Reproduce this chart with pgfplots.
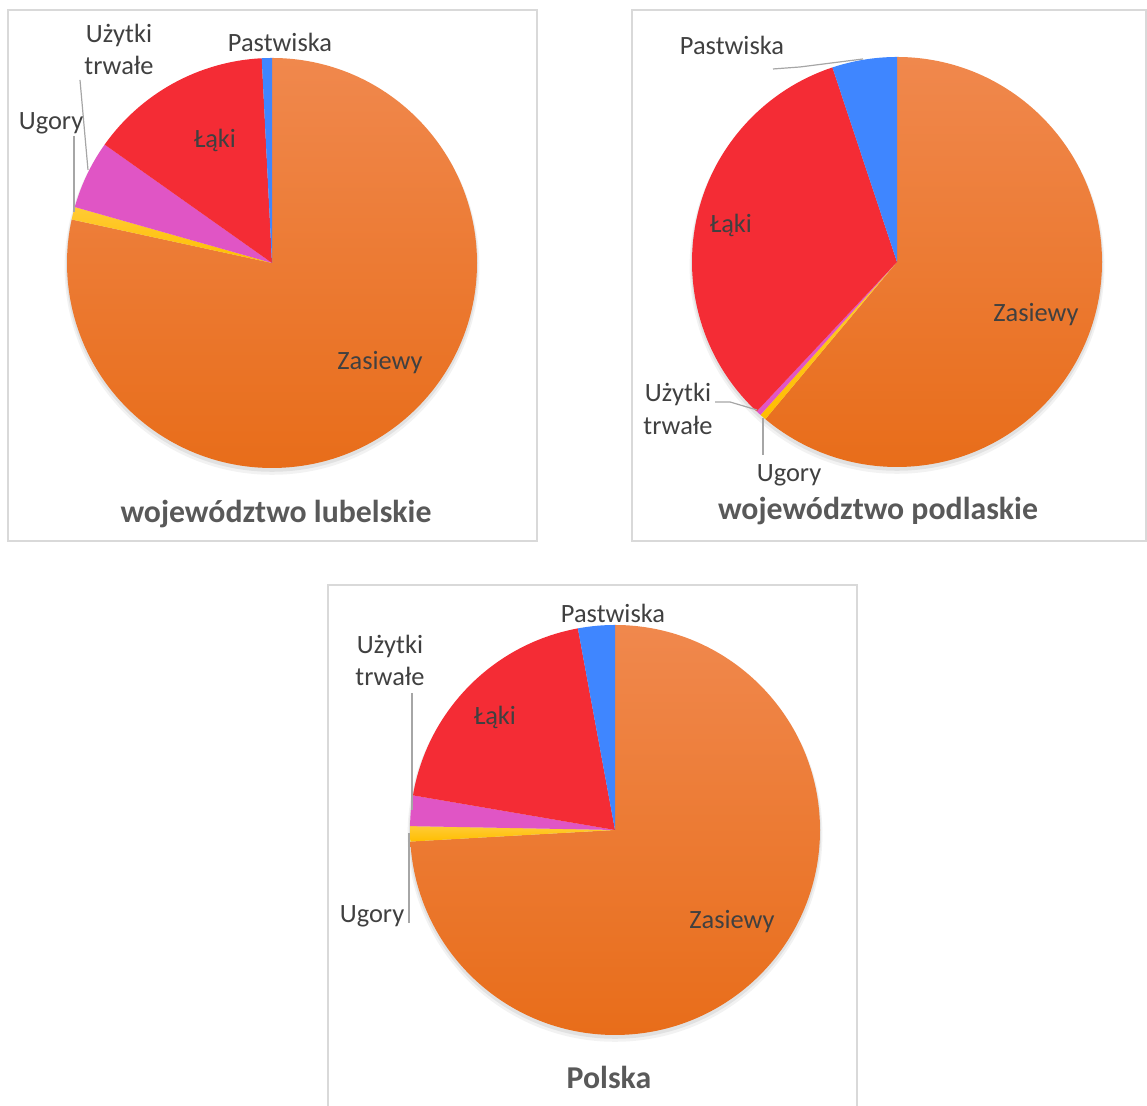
\documentclass[border=0pt]{standalone}
\usepackage{pgfplots}
\pgfplotsset{compat=1.18}
\usepackage{pgfplotstable}
\usepackage{fontspec}
\setmainfont{Carlito}

\definecolor{orTop}{HTML}{F0884D}
\definecolor{orMid}{HTML}{F77F22}
\definecolor{orBot}{HTML}{E86D1A}
\definecolor{ugTop}{HTML}{FFCB35}
\definecolor{ugBot}{HTML}{FFBE00}
\definecolor{uzytki}{HTML}{E055C5}
\definecolor{laki}{HTML}{F42C35}
\definecolor{past}{HTML}{3F86FF}
\definecolor{lbl}{HTML}{404040}
\definecolor{ttl}{HTML}{595959}
\definecolor{frame}{HTML}{D9D9D9}
\definecolor{leader}{HTML}{A6A6A6}

% shares in percent, order as in the charts (clockwise from 12 o'clock)
\pgfplotstableread{
name value
Zasiewy 78.4
Ugory 1.0
Uzytki_trwale 5.4
Laki 14.4
Pastwiska 0.8
}\lubelskie
\pgfplotstableread{
name value
Zasiewy 61.1
Ugory 0.5
Uzytki_trwale 0.4
Laki 32.9
Pastwiska 5.1
}\podlaskie
\pgfplotstableread{
name value
Zasiewy 74.1
Ugory 1.2
Uzytki_trwale 2.4
Laki 19.4
Pastwiska 2.9
}\polska

\makeatletter
\newcommand\computepie[2]{%
  \pgfplotstablegetrowsof{#1}%
  \pgfmathtruncatemacro\pie@n{\pgfplotsretval-1}%
  \gdef\pie@tot{0}%
  \pgfplotsforeachungrouped \i in {0,...,\pie@n}{%
    \pgfplotstablegetelem{\i}{value}\of{#1}%
    \pgfmathsetmacro\pie@t{\pie@tot+\pgfplotsretval}%
    \xdef\pie@tot{\pie@t}%
  }%
  \gdef\pie@cum{0}%
  \pgfplotsforeachungrouped \i in {0,...,\pie@n}{%
    \pgfplotstablegetelem{\i}{value}\of{#1}%
    \pgfmathsetmacro\pie@a{90-(\pie@cum/\pie@tot)*360}%
    \pgfmathsetmacro\pie@c{\pie@cum+\pgfplotsretval}%
    \pgfmathsetmacro\pie@b{90-(\pie@c/\pie@tot)*360}%
    \expandafter\xdef\csname #2s\i\endcsname{\pie@a}%
    \expandafter\xdef\csname #2e\i\endcsname{\pie@b}%
    \xdef\pie@cum{\pie@c}%
  }%
}
\makeatother

\tikzset{
  slice0/.style={top color=orTop, middle color=orMid, bottom color=orBot},
  slice1/.style={top color=ugTop, bottom color=ugBot},
  slice2/.style={fill=uzytki},
  slice3/.style={fill=laki},
  slice4/.style={fill=past},
  lab/.style={text=lbl, font=\fontsize{13.2}{16}\selectfont, anchor=base, inner sep=0pt},
  ttl/.style={text=ttl, font=\bfseries\fontsize{15.9}{19}\selectfont, anchor=base, inner sep=0pt},
  lead/.style={draw=leader, line width=0.6pt},
}

\newcommand\drawpie[4]{% prefix, cx, cy, radius
  \fill[black,opacity=0.05] ([yshift=-2.2pt]axis cs:#2,#3) circle[radius=#4+1.2pt];
  \fill[black,opacity=0.07] ([yshift=-1.4pt]axis cs:#2,#3) circle[radius=#4+0.5pt];
  \pgfplotsinvokeforeach{0,...,4}{%
    \path[slice##1] (axis cs:#2,#3) -- ++(\csname #1s##1\endcsname:#4)
      arc[start angle=\csname #1s##1\endcsname, end angle=\csname #1e##1\endcsname, radius=#4] -- cycle;
  }%
}

\pgfplotsset{
  pieframe/.style={scale only axis, axis line style={draw=frame, line width=0.7pt},
    xtick=\empty, ytick=\empty, clip=false, anchor=south west},
}

\begin{document}
\begin{tikzpicture}
\computepie{\lubelskie}{lub}
\computepie{\podlaskie}{pod}
\computepie{\polska}{pol}

% ---- województwo lubelskie ----
\begin{axis}[pieframe, at={(4pt,282.5pt)}, width=264.5pt, height=265.5pt,
  xmin=8, xmax=537, ymin=565, ymax=1096]
\drawpie{lub}{272}{843}{102.5pt}
\draw[lead] (axis cs:80,1026) -- (axis cs:88,936);
\draw[lead] (axis cs:74,970) -- (axis cs:74,894);
\node[lab] at (axis cs:119,1063) {Użytki};
\node[lab] at (axis cs:119,1031) {trwałe};
\node[lab] at (axis cs:51,976) {Ugory};
\node[lab] at (axis cs:280,1054) {Pastwiska};
\node[lab] at (axis cs:215,958) {Łąki};
\node[lab] at (axis cs:380,736) {Zasiewy};
\node[ttl] at (axis cs:276,583) {województwo lubelskie};
\end{axis}

% ---- województwo podlaskie ----
\begin{axis}[pieframe, at={(316pt,282.5pt)}, width=257pt, height=265.5pt,
  xmin=632, xmax=1146, ymin=565, ymax=1096]
\drawpie{pod}{897}{844}{102.5pt}
\draw[lead] (axis cs:773,1037) -- (axis cs:800,1039) -- (axis cs:863,1047);
\draw[lead] (axis cs:715,704) -- (axis cs:730,704) -- (axis cs:757,696);
\draw[lead] (axis cs:763,688) -- (axis cs:763,651);
\node[lab] at (axis cs:732,1051) {Pastwiska};
\node[lab] at (axis cs:731,873) {Łąki};
\node[lab] at (axis cs:1036,784) {Zasiewy};
\node[lab] at (axis cs:678,704) {Użytki};
\node[lab] at (axis cs:678,671) {trwałe};
\node[lab] at (axis cs:789,624) {Ugory};
\node[ttl] at (axis cs:878,586) {województwo podlaskie};
\end{axis}

% ---- Polska ----
\begin{axis}[pieframe, at={(164pt,-2pt)}, width=264.5pt, height=262.5pt,
  xmin=328, xmax=857, ymin=-4, ymax=521]
\drawpie{pol}{615}{276}{102.5pt}
\draw[lead] (axis cs:412,413) -- (axis cs:412,296);
\draw[lead] (axis cs:409,183) -- (axis cs:409,273);
\node[lab] at (axis cs:613,483) {Pastwiska};
\node[lab] at (axis cs:390,452) {Użytki};
\node[lab] at (axis cs:390,420) {trwałe};
\node[lab] at (axis cs:495,381) {Łąki};
\node[lab] at (axis cs:372,183) {Ugory};
\node[lab] at (axis cs:732,177) {Zasiewy};
\node[ttl] at (axis cs:609,17) {Polska};
\end{axis}

\pgfresetboundingbox
\useasboundingbox (0,0) rectangle (573.5pt,553pt);
\end{tikzpicture}
\end{document}
